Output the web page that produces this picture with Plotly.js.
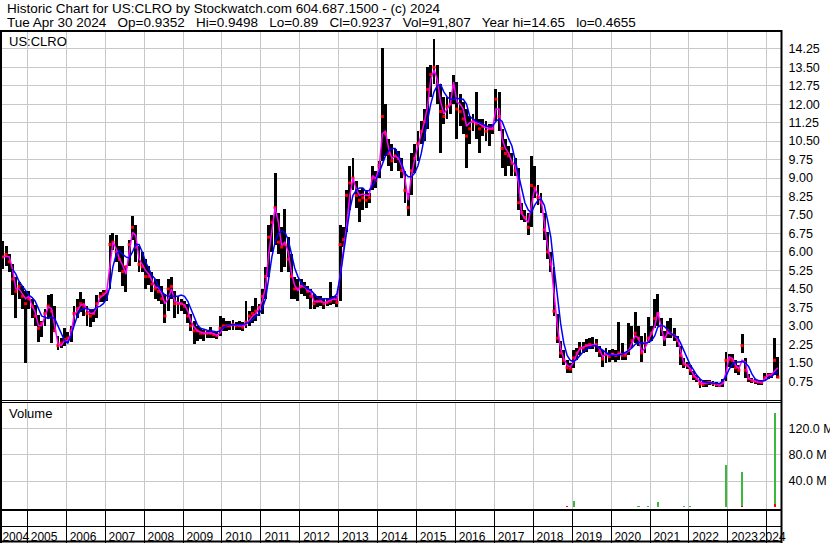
<!DOCTYPE html>
<html><head><meta charset="utf-8">
<script src="https://cdn.plot.ly/plotly-3.0.1.min.js"></script>
<style>html,body{margin:0;padding:0;background:#fff;}#chart{width:830px;height:543px;}</style>
</head><body><div id="chart"></div>
<script>
// first monthly bar = May 2004, last = Apr 2024 (one value per month)
const startYear = 2004, startMonth = 5;

const high = [
 6.45,6.26,5.9,5.5,5.0,4.8,4.6,4.4,
 4.4,4.1,3.85,3.45,3.2,3.7,4.25,4.3,3.8,2.6,2.5,2.9,
 2.75,3.0,3.8,4.1,4.37,4.1,3.8,3.7,3.7,4.25,4.37,4.45,
 4.45,6.7,6.75,6.7,6.25,6.25,5.45,6.5,7.45,7.1,6.25,6.0,
 5.7,5.45,5.2,4.9,4.9,4.6,4.3,4.9,5.0,4.4,4.2,4.1,
 4.0,3.9,3.5,3.2,3.0,2.9,2.85,2.8,2.95,2.8,2.75,3.4,
 3.3,3.2,3.2,3.25,3.15,3.2,3.15,4.0,3.6,3.8,4.15,3.9,
 4.5,5.4,7.1,7.5,9.2,7.6,7.0,7.75,6.6,5.9,5.0,4.9,
 4.9,4.8,4.6,4.5,4.3,4.2,4.2,4.1,4.1,4.8,4.2,4.2,
 7.1,7.0,8.5,9.5,9.8,8.9,8.5,8.6,8.5,8.4,9.5,9.3,
 9.7,14.3,12.0,10.6,10.4,10.2,10.1,9.8,9.3,8.4,10.0,10.4,
 10.9,11.3,11.8,13.5,13.6,14.65,13.6,12.8,12.3,12.3,12.5,13.2,
 12.9,12.4,12.1,11.8,11.5,11.6,12.5,11.4,11.4,11.3,11.2,11.2,
 12.6,12.5,11.0,10.6,10.3,10.0,9.8,9.4,8.0,7.7,7.6,9.9,
 9.5,8.7,8.4,7.6,6.8,6.0,5.4,3.5,2.4,2.0,1.6,1.5,
 2.0,2.1,2.35,2.35,2.45,2.5,2.55,2.45,2.2,2.0,2.1,2.0,
 2.05,2.0,3.15,2.3,1.95,3.1,3.0,3.56,3.0,2.6,2.7,3.35,
 3.0,4.1,4.3,3.3,2.8,3.2,3.3,2.9,2.6,2.2,1.7,1.55,
 1.4,1.15,1.0,0.85,0.8,0.8,0.8,0.75,0.72,0.68,0.85,1.95,
 1.85,1.85,1.6,1.4,2.65,1.7,1.05,0.9,0.85,0.8,0.8,1.1,
 1.1,1.1,2.5,1.75];

const low = [
 5.3,5.45,5.2,4.25,3.3,4.1,3.7,1.5,
 3.7,3.3,3.0,2.35,2.55,3.0,3.3,2.3,2.75,2.0,2.1,2.2,
 2.3,2.35,3.0,3.3,3.55,3.4,3.0,2.95,3.15,3.3,3.95,3.95,
 4.0,4.5,6.1,5.6,5.2,4.6,4.37,5.45,6.5,5.6,5.2,5.2,
 4.5,4.65,4.37,4.1,4.0,3.9,3.1,3.6,4.1,3.3,3.5,3.6,
 3.5,3.1,2.8,2.25,2.4,2.45,2.4,2.5,2.5,2.5,2.45,2.6,
 2.8,2.8,2.85,2.85,2.85,2.85,2.8,2.9,3.0,3.1,3.2,3.4,
 3.5,4.1,5.0,6.0,6.3,5.9,5.2,5.4,5.2,4.1,4.1,4.0,
 4.3,4.2,4.1,3.7,3.7,3.75,3.8,3.7,3.8,3.85,3.9,3.75,
 4.0,6.2,6.8,7.7,8.5,7.8,7.2,7.7,7.8,8.0,8.5,8.6,
 9.0,9.7,9.9,9.5,9.3,9.6,9.3,9.0,8.0,7.45,8.3,9.2,
 9.7,10.4,10.5,11.0,12.3,12.8,12.0,10.0,11.2,11.4,11.6,12.0,
 10.6,11.1,10.8,9.4,10.4,10.9,10.6,10.0,10.7,10.5,10.3,10.8,
 11.3,10.9,9.4,9.1,9.5,9.1,9.1,7.7,7.3,7.2,6.7,7.0,
 8.2,7.9,7.6,6.5,5.7,5.2,3.4,2.3,1.7,1.4,1.1,1.1,
 1.3,1.6,1.8,1.9,1.95,2.05,2.05,1.95,1.75,1.35,1.5,1.55,
 1.6,1.55,1.6,1.6,1.6,1.8,2.1,2.3,2.2,1.55,1.9,2.3,
 2.4,2.9,3.0,2.6,2.2,2.5,2.5,2.4,2.15,1.4,1.3,1.25,
 1.0,0.8,0.72,0.47,0.5,0.52,0.58,0.56,0.52,0.5,0.52,0.75,
 1.35,1.3,1.1,1.0,1.9,0.9,0.72,0.67,0.65,0.6,0.6,0.75,
 0.85,0.9,1.0,0.89];

const close = [
 5.8,5.9,5.6,4.9,4.4,4.6,4.2,3.9,
 4.1,3.8,3.4,2.9,3.1,3.5,3.8,3.6,2.8,2.2,2.3,2.45,
 2.5,2.8,3.5,3.7,3.9,3.8,3.5,3.4,3.5,3.9,4.2,4.3,
 4.4,6.3,6.4,6.0,5.7,5.2,5.4,6.3,7.0,6.2,5.5,5.4,
 5.0,5.0,4.7,4.5,4.4,4.1,3.4,4.5,4.6,3.9,3.9,3.9,
 3.8,3.4,3.0,2.8,2.8,2.7,2.7,2.7,2.7,2.65,2.6,2.9,
 3.0,3.0,3.0,3.05,3.0,3.0,2.95,3.15,3.4,3.5,3.6,3.75,
 4.2,5.0,6.6,7.2,7.8,6.4,6.2,6.3,5.7,5.0,4.5,4.5,
 4.6,4.6,4.4,4.2,3.9,4.0,4.0,3.9,3.95,4.0,4.1,3.95,
 6.3,6.5,8.3,8.8,9.0,8.3,8.1,8.2,8.1,8.2,9.0,8.9,
 9.5,11.5,10.8,10.0,9.7,9.9,9.8,9.3,8.5,7.8,9.3,9.8,
 10.4,10.9,11.3,12.6,13.2,13.5,12.8,11.7,11.5,11.9,12.0,12.7,
 11.8,11.7,11.4,10.7,11.0,11.3,11.2,11.0,11.1,10.9,11.0,11.0,
 12.2,11.5,10.2,10.0,9.9,9.6,9.3,8.0,7.6,7.4,7.0,8.7,
 8.6,8.2,8.0,6.9,6.0,5.5,3.6,2.5,1.9,1.6,1.3,1.25,
 1.7,1.9,2.1,2.1,2.2,2.25,2.2,2.25,1.95,1.65,1.85,1.75,
 1.85,1.8,1.9,1.8,1.8,2.0,2.4,2.7,2.5,1.9,2.3,2.5,
 2.7,3.3,3.5,3.0,2.5,2.8,2.7,2.6,2.4,1.8,1.45,1.4,
 1.2,0.95,0.85,0.65,0.62,0.68,0.7,0.66,0.62,0.58,0.7,1.6,
 1.65,1.6,1.3,1.2,2.2,1.2,0.85,0.78,0.75,0.72,0.7,0.9,
 1.0,1.0,1.6,0.92];

const maShort = [
 5.8,5.83,5.8,5.3,4.5,4.5,4.3,4.1,
 4.2,3.8,3.56,3.0,3.0,3.4,3.76,3.7,3.0,2.28,2.2,2.4,
 2.4,2.68,3.4,3.63,3.83,3.9,3.63,3.5,3.5,3.76,4.17,4.24,
 4.37,5.45,6.4,6.13,5.72,5.45,5.1,6.0,6.8,6.67,5.72,5.5,
 5.25,5.1,4.85,4.57,4.55,4.3,3.9,4.1,4.5,4.0,3.95,3.9,
 3.85,3.6,3.2,2.95,2.8,2.75,2.7,2.7,2.72,2.68,2.62,2.7,
 2.95,3.0,3.02,3.05,3.03,3.0,3.0,3.05,3.25,3.4,3.5,3.7,
 4.0,4.6,5.9,6.9,7.8,7.2,6.26,6.4,6.0,5.18,4.64,4.44,
 4.64,4.6,4.44,4.37,4.0,3.98,4.0,3.95,3.97,4.05,4.1,4.05,
 5.1,6.26,7.0,8.3,9.0,8.55,8.3,8.35,8.3,8.3,9.1,8.97,
 9.4,10.8,10.9,10.2,9.8,9.9,9.8,9.5,8.97,8.1,9.1,9.78,
 10.3,10.85,11.25,11.9,13.0,13.4,13.0,12.1,11.6,11.8,12.0,12.9,
 12.1,12.0,11.8,11.1,11.25,11.3,11.25,11.2,11.1,11.05,11.0,11.0,
 11.8,11.8,10.6,10.2,10.0,9.65,9.5,8.8,7.55,7.35,7.2,7.9,
 8.57,8.3,8.15,7.2,6.26,5.6,4.4,3.0,2.08,1.67,1.4,1.33,
 1.53,1.87,2.07,2.14,2.2,2.2,2.2,2.23,2.07,1.74,1.87,1.8,
 1.87,1.8,1.87,1.87,1.87,2.0,2.3,2.6,2.5,1.94,2.1,2.4,
 2.68,3.0,3.56,3.0,2.41,2.75,2.68,2.6,2.48,1.94,1.47,1.4,
 1.26,1.0,0.88,0.72,0.66,0.7,0.72,0.68,0.62,0.59,0.65,1.1,
 1.74,1.67,1.4,1.26,1.6,1.53,0.86,0.79,0.75,0.72,0.71,0.86,
 1.0,1.02,1.15,1.3];

const maLong = [
 null,null,null,5.3,5.1,4.8,4.6,4.4,
 4.25,4.15,4.0,3.7,3.4,3.35,3.3,3.35,3.3,3.0,2.7,2.4,
 2.3,2.6,3.0,3.4,3.65,3.7,3.7,3.65,3.65,3.75,3.8,3.9,
 4.1,4.6,5.4,5.9,6.05,5.9,5.8,5.75,6.0,6.3,6.3,6.0,
 5.6,5.3,5.05,4.9,4.6,4.4,4.25,4.2,4.2,4.2,4.2,4.25,
 4.2,4.0,3.7,3.35,3.05,2.9,2.85,2.82,2.8,2.77,2.75,2.8,
 2.95,3.0,3.05,3.05,3.05,3.05,3.05,3.1,3.15,3.25,3.4,3.5,
 3.7,4.1,4.9,5.8,6.4,6.75,6.85,6.8,6.5,5.9,5.35,5.0,
 4.75,4.6,4.5,4.45,4.3,4.15,4.1,4.1,4.1,4.1,4.15,4.3,
 5.0,5.9,6.7,7.7,8.3,8.5,8.6,8.6,8.45,8.5,8.7,8.9,
 9.2,9.6,9.9,10.1,10.2,10.2,9.95,9.6,9.2,9.05,9.05,9.2,
 9.5,10.0,10.6,11.3,12.0,12.5,12.75,12.8,12.5,12.3,12.2,12.2,
 12.25,12.2,12.2,12.0,11.5,11.4,11.3,11.25,11.2,11.1,11.1,11.1,
 11.3,11.4,11.3,10.9,10.6,10.3,9.7,9.1,8.5,8.0,7.7,7.6,
 7.9,8.1,8.15,7.9,7.3,6.6,5.4,4.2,3.1,2.3,1.8,1.6,
 1.55,1.65,1.8,1.95,2.05,2.12,2.18,2.2,2.1,2.0,1.9,1.83,
 1.8,1.8,1.82,1.85,1.92,2.0,2.1,2.25,2.33,2.3,2.28,2.33,
 2.4,2.6,2.95,3.02,2.98,2.85,2.7,2.6,2.55,2.3,2.0,1.65,
 1.4,1.2,1.0,0.85,0.75,0.7,0.68,0.66,0.66,0.66,0.75,0.95,
 1.25,1.45,1.53,1.53,1.55,1.5,1.35,1.05,0.85,0.78,0.76,0.78,
 0.85,0.95,1.05,1.15];

// volume spikes (millions of shares)
const volUpMonths   = ['2019-01','2020-09','2020-12','2021-03','2021-11','2022-01','2022-12','2023-05','2024-03'];
const volUpValues   = [9.2, 1.0, 2.0, 7.7, 1.0, 1.0, 64.6, 53.8, 145];
const volDownMonths = ['2018-11','2021-10','2023-05','2024-03'];
const volDownValues = [0.8, 0.6, 0.8, 4.0];

const yearLabels = ['2004','2005','2006','2007','2008','2009','2010','2011','2012','2013','2014',
  '2015','2016','2017','2018','2019','2020','2021','2022','2023','2024'];
const priceTickLabels = ['0.75','1.50','2.25','3.00','3.75','4.50','5.25','6.00','6.75','7.50',
  '8.25','9.00','9.75','10.50','11.25','12.00','12.75','13.50','14.25'];
const volTickLabels = ['40.0 M','80.0 M','120.0 M'];
const volTickValues = [40, 80, 120];

// ---------- helpers ----------
function monthDate(i){
  const t = startMonth - 1 + i;
  const y = startYear + Math.floor(t/12), m = t % 12 + 1;
  return y + '-' + String(m).padStart(2,'0') + '-15';
}
function decToDate(d){
  const y = Math.floor(d);
  const a = Date.UTC(y,0,1), b = Date.UTC(y+1,0,1);
  return new Date(a + (d-y)*(b-a)).toISOString().slice(0,19).replace('T',' ');
}
const dates = high.map((_,i)=>monthDate(i));
const DAY = 86400000;
const xStartDec = 2004.3492, xEndDec = 2024.3931;
const xRange = [decToDate(xStartDec), decToDate(xEndDec)];
const labelPos = yearLabels.map(s=>{
  let p = Number(s) + 0.43;
  p = Math.max(p, xStartDec + 0.353);
  p = Math.min(p, xEndDec - 0.25);
  return decToDate(p);
});

// pixel -> paper helpers (plot area: x 2..782, y 32..510)
const PL=2, PR=782, PT=32, PB=510;
const px = v => (v-PL)/(PR-PL);
const py = v => (PB-v)/(PB-PT);

const traces = [
  {type:'bar', x:dates, y:high.map((h,i)=>h-low[i]), base:low, width:27*DAY,
   marker:{color:'#000', line:{width:0}}, xaxis:'x', yaxis:'y', hoverinfo:'skip'},
  {type:'scatter', mode:'markers', x:dates, y:close,
   marker:{symbol:'square', size:3, color:'#ff0000', line:{width:0}}, xaxis:'x', yaxis:'y', hoverinfo:'skip'},
  {type:'scatter', mode:'lines', x:dates, y:maShort, line:{color:'#ff00ff', width:1.5},
   xaxis:'x', yaxis:'y', hoverinfo:'skip'},
  {type:'scatter', mode:'lines', x:dates, y:maLong, line:{color:'#0000ff', width:1.5},
   connectgaps:false, xaxis:'x', yaxis:'y', hoverinfo:'skip'},
  {type:'bar', x:volUpMonths.map(m=>m+'-15'), y:volUpValues, width:19*DAY,
   marker:{color:'#3cb83c', line:{width:0}}, xaxis:'x2', yaxis:'y2', hoverinfo:'skip'},
  {type:'bar', x:volDownMonths.map(m=>m+'-15'), y:volDownValues, width:19*DAY,
   marker:{color:'#ff0000', line:{width:0}}, xaxis:'x2', yaxis:'y2', hoverinfo:'skip'},
  {type:'scatter', mode:'markers', x:[], y:[], xaxis:'x3', yaxis:'y2', hoverinfo:'skip'}
];

const grid = '#c8c8c8';
const FONT = 'Liberation Sans, Arial, Helvetica, sans-serif';
const line = (x0,y0,x1,y1,w)=>({type:'line', xref:'paper', yref:'paper',
  x0:px(x0), y0:py(y0), x1:px(x1), y1:py(y1), line:{color:'#000', width:w}});

const layout = {
  width:830, height:543,
  margin:{l:PL, r:830-PR, t:PT, b:543-PB, pad:0},
  paper_bgcolor:'#fff', plot_bgcolor:'#fff',
  showlegend:false, barmode:'overlay', bargap:0,
  font:{family:FONT, size:12.5, color:'#000'},
  xaxis:{type:'date', range:xRange, domain:[0,1], anchor:'y', tickmode:'linear',
    tick0:'2005-01-01', dtick:'M12', showgrid:true, gridcolor:grid, gridwidth:1,
    showticklabels:false, ticks:'', zeroline:false, showline:false, fixedrange:true},
  xaxis2:{type:'date', range:xRange, domain:[0,1], anchor:'y2', matches:'x', tickmode:'linear',
    tick0:'2005-01-01', dtick:'M12', showgrid:true, gridcolor:grid, gridwidth:1,
    showticklabels:false, ticks:'outside', ticklen:33, tickwidth:1, tickcolor:'#000',
    zeroline:false, showline:false, fixedrange:true},
  xaxis3:{type:'date', range:xRange, overlaying:'x2', anchor:'y2', side:'bottom',
    tickmode:'array', tickvals:labelPos, ticktext:yearLabels, tickangle:0,
    ticks:'outside', ticklen:16, tickcolor:'rgba(0,0,0,0)', showgrid:false,
    zeroline:false, showline:false, tickfont:{family:FONT, size:12, color:'#000'}, fixedrange:true},
  yaxis:{domain:[py(400),1], anchor:'x', side:'right', range:[-0.01,14.93],
    tickmode:'array', tickvals:priceTickLabels.map(Number), ticktext:priceTickLabels,
    showgrid:true, gridcolor:grid, gridwidth:1, zeroline:false, showline:false,
    ticks:'outside', ticklen:3, tickcolor:'rgba(0,0,0,0)', fixedrange:true},
  yaxis2:{domain:[0,py(402)], anchor:'x2', side:'right', range:[-4.6,161.5],
    tickmode:'array', tickvals:volTickValues, ticktext:volTickLabels,
    showgrid:true, gridcolor:grid, gridwidth:1, zeroline:false, showline:false,
    ticks:'outside', ticklen:3, tickcolor:'rgba(0,0,0,0)', fixedrange:true},
  shapes:[
    line(0,31,782,31,2),
    line(1,30,1,543,2),
    line(781.5,30,781.5,543,2),
    line(0,400.5,782,400.5,1),
    line(0,402.5,782,402.5,1),
    line(0,510,782,510,2),
    line(0,526.5,782,526.5,1),
    line(0,541.5,782,541.5,2)
  ],
  annotations:[
    {xref:'paper', yref:'paper', x:px(4.5), y:py(8), xanchor:'left', yanchor:'middle', showarrow:false,
     text:'Historic Chart for US:CLRO by Stockwatch.com 604.687.1500 - (c) 2024', font:{family:FONT, size:13.5, color:'#000'}},
    {xref:'paper', yref:'paper', x:px(4.5), y:py(23), xanchor:'left', yanchor:'middle', showarrow:false,
     text:'Tue Apr 30 2024\u00a0\u00a0 Op=0.9352\u00a0\u00a0 Hi=0.9498\u00a0\u00a0 Lo=0.89\u00a0\u00a0 Cl=0.9237\u00a0\u00a0 Vol=91,807\u00a0\u00a0 Year hi=14.65\u00a0\u00a0 lo=0.4655',
     font:{family:FONT, size:13.5, color:'#000'}},
    {xref:'paper', yref:'paper', x:px(7), y:py(41.7), xanchor:'left', yanchor:'middle', showarrow:false,
     text:'US:CLRO', font:{family:FONT, size:13, color:'#000'}},
    {xref:'paper', yref:'paper', x:px(7), y:py(413), xanchor:'left', yanchor:'middle', showarrow:false,
     text:'Volume', font:{family:FONT, size:13, color:'#000'}}
  ]
};

Plotly.newPlot('chart', traces, layout, {staticPlot:true, displayModeBar:false});
</script>
</body></html>
